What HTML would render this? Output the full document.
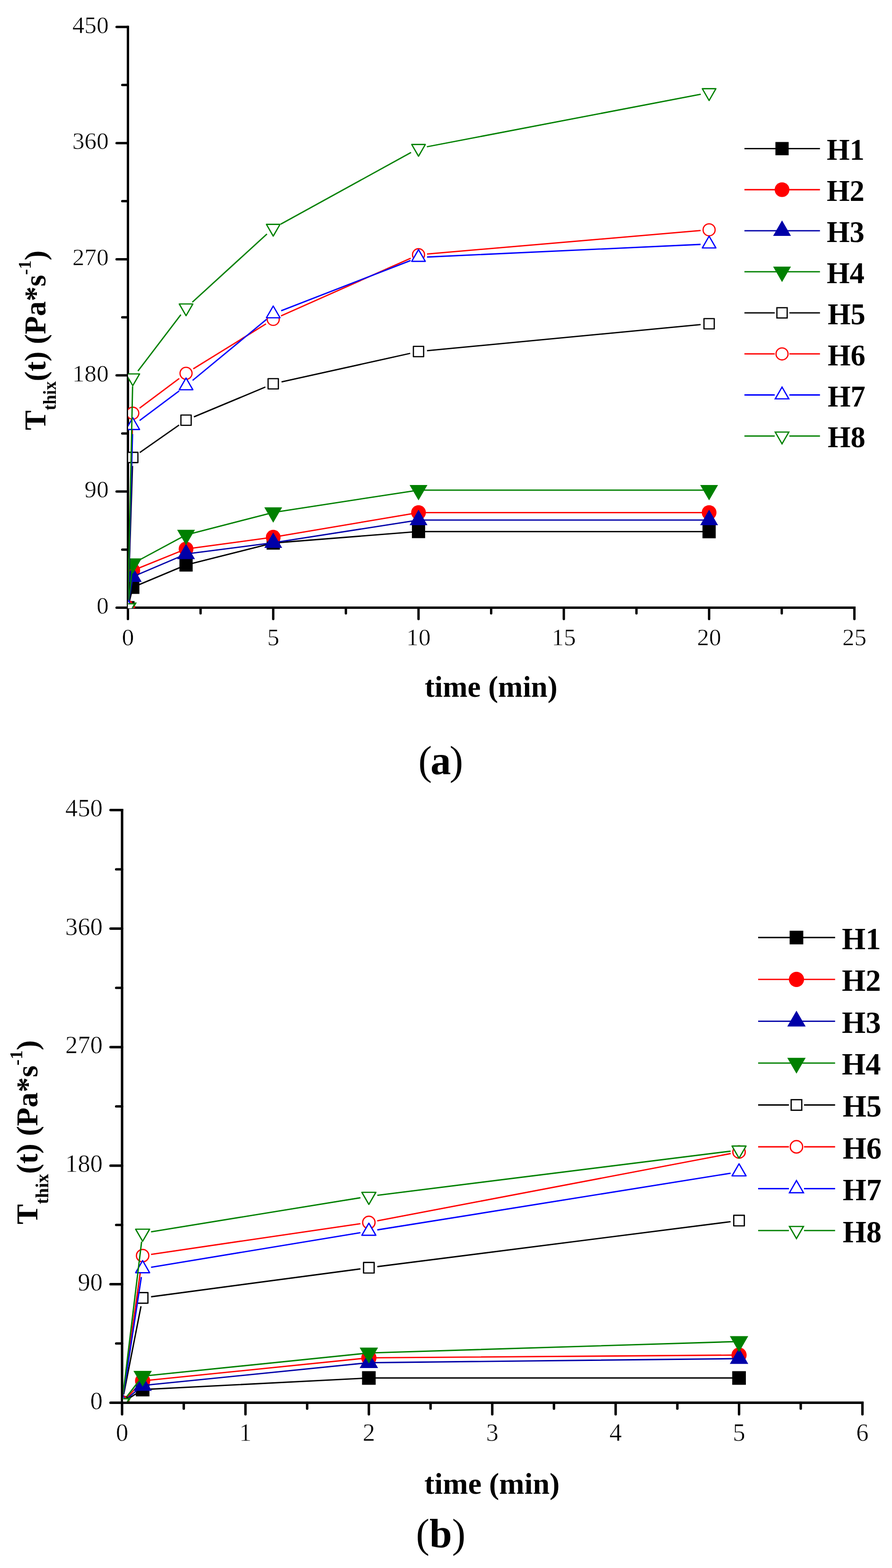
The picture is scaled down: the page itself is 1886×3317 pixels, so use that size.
<!DOCTYPE html><html><head><meta charset="utf-8"><title>Thixotropy chart</title><style>html,body{margin:0;padding:0;background:#fff;}svg{display:block;}</style></head><body>
<svg width="1886" height="3317" viewBox="0 0 1886 3317">
<rect width="1886" height="3317" fill="#fff"/>
<g stroke="#000" fill="none">
<path d="M270.5 54.5L270.5 1285.5L1809 1285.5" stroke-width="5" stroke-linejoin="miter" stroke-linecap="butt"/>
<path d="M270.5 1285.5L246.5 1285.5M270.5 1162.65L258.5 1162.65M270.5 1039.8L246.5 1039.8M270.5 916.95L258.5 916.95M270.5 794.1L246.5 794.1M270.5 671.25L258.5 671.25M270.5 548.4L246.5 548.4M270.5 425.55L258.5 425.55M270.5 302.7L246.5 302.7M270.5 179.85L258.5 179.85M270.5 57L246.5 57M270.5 1285.5L270.5 1309.5M424.1 1285.5L424.1 1297.5M577.7 1285.5L577.7 1309.5M731.3 1285.5L731.3 1297.5M884.9 1285.5L884.9 1309.5M1038.5 1285.5L1038.5 1297.5M1192.1 1285.5L1192.1 1309.5M1345.7 1285.5L1345.7 1297.5M1499.3 1285.5L1499.3 1309.5M1652.9 1285.5L1652.9 1297.5M1806.5 1285.5L1806.5 1309.5" stroke-width="5" stroke-linecap="round"/>
</g>
<defs><clipPath id="clipa"><rect x="270.8" y="17" width="1575.7" height="1269.6"/></clipPath></defs>
<g clip-path="url(#clipa)" stroke-linecap="butt" stroke-linejoin="round">
<polyline points="270.5,1285.5 280.74,1242.37 393.38,1195.14 577.7,1148.73 884.9,1124.43 1499.3,1124.7" fill="none" stroke="#000000" stroke-width="2.8"/>
<rect x="256.5" y="1271.5" width="28" height="28" fill="#000000"/>
<rect x="266.74" y="1228.37" width="28" height="28" fill="#000000"/>
<rect x="379.38" y="1181.14" width="28" height="28" fill="#000000"/>
<rect x="563.7" y="1134.73" width="28" height="28" fill="#000000"/>
<rect x="870.9" y="1110.43" width="28" height="28" fill="#000000"/>
<rect x="1485.3" y="1110.7" width="28" height="28" fill="#000000"/>
<polyline points="270.5,1285.5 280.74,1206.88 393.38,1161.29 577.7,1136.44 884.9,1084.3 1499.3,1084.3" fill="none" stroke="#ff0000" stroke-width="2.8"/>
<circle cx="270.5" cy="1285.5" r="15.6" fill="#ff0000"/>
<circle cx="280.74" cy="1206.88" r="15.6" fill="#ff0000"/>
<circle cx="393.38" cy="1161.29" r="15.6" fill="#ff0000"/>
<circle cx="577.7" cy="1136.44" r="15.6" fill="#ff0000"/>
<circle cx="884.9" cy="1084.3" r="15.6" fill="#ff0000"/>
<circle cx="1499.3" cy="1084.3" r="15.6" fill="#ff0000"/>
<polyline points="270.5,1285.5 280.74,1219.98 393.38,1171.93 577.7,1148.18 884.9,1100.13 1499.3,1100.13" fill="none" stroke="#0000a8" stroke-width="2.8"/>
<polygon points="270.5,1263.7 289.38,1296.4 251.62,1296.4" fill="#0000a8"/>
<polygon points="280.74,1198.18 299.62,1230.88 261.86,1230.88" fill="#0000a8"/>
<polygon points="393.38,1150.13 412.26,1182.83 374.5,1182.83" fill="#0000a8"/>
<polygon points="577.7,1126.38 596.58,1159.08 558.82,1159.08" fill="#0000a8"/>
<polygon points="884.9,1078.33 903.78,1111.03 866.02,1111.03" fill="#0000a8"/>
<polygon points="1499.3,1078.33 1518.18,1111.03 1480.42,1111.03" fill="#0000a8"/>
<polyline points="270.5,1285.5 280.74,1192.13 393.38,1131.53 577.7,1084.03 884.9,1036.8 1499.3,1036.8" fill="none" stroke="#008000" stroke-width="2.8"/>
<polygon points="270.5,1307.3 289.38,1274.6 251.62,1274.6" fill="#008000"/>
<polygon points="280.74,1213.93 299.62,1181.23 261.86,1181.23" fill="#008000"/>
<polygon points="393.38,1153.33 412.26,1120.63 374.5,1120.63" fill="#008000"/>
<polygon points="577.7,1105.83 596.58,1073.13 558.82,1073.13" fill="#008000"/>
<polygon points="884.9,1058.6 903.78,1025.9 866.02,1025.9" fill="#008000"/>
<polygon points="1499.3,1058.6 1518.18,1025.9 1480.42,1025.9" fill="#008000"/>
<path d="M271.08 1267.51L280.16 985.72M295.48 957.4L378.64 899.16M409.99 881.89L561.09 818.78M595.27 807.94L867.33 747.5M902.82 741.88L1481.38 686.61" fill="none" stroke="#000000" stroke-width="2.8"/>
<rect x="259.65" y="1274.65" width="21.7" height="21.7" fill="#fff" stroke="#000000" stroke-width="2.6"/>
<rect x="269.89" y="956.88" width="21.7" height="21.7" fill="#fff" stroke="#000000" stroke-width="2.6"/>
<rect x="382.53" y="877.98" width="21.7" height="21.7" fill="#fff" stroke="#000000" stroke-width="2.6"/>
<rect x="566.85" y="801" width="21.7" height="21.7" fill="#fff" stroke="#000000" stroke-width="2.6"/>
<rect x="874.05" y="732.75" width="21.7" height="21.7" fill="#fff" stroke="#000000" stroke-width="2.6"/>
<rect x="1488.45" y="674.05" width="21.7" height="21.7" fill="#fff" stroke="#000000" stroke-width="2.6"/>
<path d="M270.95 1267.51L280.29 892.08M295.15 863.3L378.97 800.52M408.68 780.26L562.4 685.09M594.14 668.3L868.46 546.17M902.83 537.31L1481.37 487.69" fill="none" stroke="#ff0000" stroke-width="2.8"/>
<circle cx="270.5" cy="1285.5" r="12.7" fill="#fff" stroke="#ff0000" stroke-width="2.6"/>
<circle cx="280.74" cy="874.09" r="12.7" fill="#fff" stroke="#ff0000" stroke-width="2.6"/>
<circle cx="393.38" cy="789.73" r="12.7" fill="#fff" stroke="#ff0000" stroke-width="2.6"/>
<circle cx="577.7" cy="675.62" r="12.7" fill="#fff" stroke="#ff0000" stroke-width="2.6"/>
<circle cx="884.9" cy="538.85" r="12.7" fill="#fff" stroke="#ff0000" stroke-width="2.6"/>
<circle cx="1499.3" cy="486.16" r="12.7" fill="#fff" stroke="#ff0000" stroke-width="2.6"/>
<path d="M270.98 1267.51L280.26 918.29M295.16 889.53L378.96 826.98M407.25 804.75L563.83 675.35M594.48 657.36L868.12 551.09M902.88 543.75L1481.32 517.02" fill="none" stroke="#0000ff" stroke-width="2.8"/>
<polygon points="270.5,1268.9 284.88,1293.8 256.12,1293.8" fill="#fff" stroke="#0000ff" stroke-width="2.6" stroke-miterlimit="10"/>
<polygon points="280.74,883.7 295.12,908.6 266.36,908.6" fill="#fff" stroke="#0000ff" stroke-width="2.6" stroke-miterlimit="10"/>
<polygon points="393.38,799.61 407.76,824.51 379,824.51" fill="#fff" stroke="#0000ff" stroke-width="2.6" stroke-miterlimit="10"/>
<polygon points="577.7,647.28 592.08,672.18 563.32,672.18" fill="#fff" stroke="#0000ff" stroke-width="2.6" stroke-miterlimit="10"/>
<polygon points="884.9,527.98 899.28,552.88 870.52,552.88" fill="#fff" stroke="#0000ff" stroke-width="2.6" stroke-miterlimit="10"/>
<polygon points="1499.3,499.59 1513.68,524.49 1484.92,524.49" fill="#fff" stroke="#0000ff" stroke-width="2.6" stroke-miterlimit="10"/>
<path d="M270.88 1267.5L280.36 817.28M291.64 784.96L382.48 665.64M406.67 639.18L564.41 495.02M593.47 474.2L869.13 322.57M902.58 310.5L1481.62 199.35" fill="none" stroke="#008000" stroke-width="2.8"/>
<polygon points="270.5,1302.1 284.88,1277.2 256.12,1277.2" fill="#fff" stroke="#008000" stroke-width="2.6" stroke-miterlimit="10"/>
<polygon points="280.74,815.89 295.12,790.99 266.36,790.99" fill="#fff" stroke="#008000" stroke-width="2.6" stroke-miterlimit="10"/>
<polygon points="393.38,667.92 407.76,643.02 379,643.02" fill="#fff" stroke="#008000" stroke-width="2.6" stroke-miterlimit="10"/>
<polygon points="577.7,499.48 592.08,474.58 563.32,474.58" fill="#fff" stroke="#008000" stroke-width="2.6" stroke-miterlimit="10"/>
<polygon points="884.9,330.49 899.28,305.59 870.52,305.59" fill="#fff" stroke="#008000" stroke-width="2.6" stroke-miterlimit="10"/>
<polygon points="1499.3,212.56 1513.68,187.66 1484.92,187.66" fill="#fff" stroke="#008000" stroke-width="2.6" stroke-miterlimit="10"/>
</g>
<g font-family="&quot;Liberation Serif&quot;, serif" font-size="51.2" fill="#000" stroke="#fff" stroke-width="0.6">
<text x="229.8" y="1298.1" text-anchor="end">0</text>
<text x="229.8" y="1052.4" text-anchor="end">90</text>
<text x="229.8" y="806.7" text-anchor="end">180</text>
<text x="229.8" y="561" text-anchor="end">270</text>
<text x="229.8" y="315.3" text-anchor="end">360</text>
<text x="229.8" y="69.6" text-anchor="end">450</text>
<text x="270.5" y="1365.4" text-anchor="middle">0</text>
<text x="577.7" y="1365.4" text-anchor="middle">5</text>
<text x="884.9" y="1365.4" text-anchor="middle">10</text>
<text x="1192.1" y="1365.4" text-anchor="middle">15</text>
<text x="1499.3" y="1365.4" text-anchor="middle">20</text>
<text x="1806.5" y="1365.4" text-anchor="middle">25</text>
</g>
<text x="1038.3" y="1474.3" text-anchor="middle" font-family="&quot;Liberation Serif&quot;, serif" font-weight="bold" font-size="62.8">time (min)</text>
<text transform="translate(95.8 910) rotate(-90)" font-family="&quot;Liberation Serif&quot;, serif" font-weight="bold" font-size="62.8">T<tspan font-size="37" dy="22">thix</tspan><tspan dy="-22">(t) (Pa*s</tspan><tspan font-size="37" dy="-31">-1</tspan><tspan dy="31">)</tspan></text>
<g>
<path d="M1574 314.4H1733.7" stroke="#000000" stroke-width="2.8"/>
<rect x="1639.5" y="300.4" width="28" height="28" fill="#000000"/>
<text x="1748" y="338.4" font-family="&quot;Liberation Serif&quot;, serif" font-weight="bold" font-size="62.5">H1</text>
<path d="M1574 401.25H1733.7" stroke="#ff0000" stroke-width="2.8"/>
<circle cx="1653.5" cy="401.25" r="15.6" fill="#ff0000"/>
<text x="1748" y="425.25" font-family="&quot;Liberation Serif&quot;, serif" font-weight="bold" font-size="62.5">H2</text>
<path d="M1574 488.1H1733.7" stroke="#0000a8" stroke-width="2.8"/>
<polygon points="1653.5,466.3 1672.38,499 1634.62,499" fill="#0000a8"/>
<text x="1748" y="512.1" font-family="&quot;Liberation Serif&quot;, serif" font-weight="bold" font-size="62.5">H3</text>
<path d="M1574 574.95H1733.7" stroke="#008000" stroke-width="2.8"/>
<polygon points="1653.5,596.75 1672.38,564.05 1634.62,564.05" fill="#008000"/>
<text x="1748" y="598.95" font-family="&quot;Liberation Serif&quot;, serif" font-weight="bold" font-size="62.5">H4</text>
<path d="M1574 661.8H1638M1669 661.8H1733.7" stroke="#000000" stroke-width="2.8"/>
<rect x="1642.65" y="650.95" width="21.7" height="21.7" fill="#fff" stroke="#000000" stroke-width="2.6"/>
<text x="1750" y="685.8" font-family="&quot;Liberation Serif&quot;, serif" font-weight="bold" font-size="62.5">H5</text>
<path d="M1574 748.65H1638M1669 748.65H1733.7" stroke="#ff0000" stroke-width="2.8"/>
<circle cx="1653.5" cy="748.65" r="12.7" fill="#fff" stroke="#ff0000" stroke-width="2.6"/>
<text x="1750" y="772.65" font-family="&quot;Liberation Serif&quot;, serif" font-weight="bold" font-size="62.5">H6</text>
<path d="M1574 835.5H1638M1669 835.5H1733.7" stroke="#0000ff" stroke-width="2.8"/>
<polygon points="1653.5,818.9 1667.88,843.8 1639.12,843.8" fill="#fff" stroke="#0000ff" stroke-width="2.6" stroke-miterlimit="10"/>
<text x="1750" y="859.5" font-family="&quot;Liberation Serif&quot;, serif" font-weight="bold" font-size="62.5">H7</text>
<path d="M1574 922.35H1638M1669 922.35H1733.7" stroke="#008000" stroke-width="2.8"/>
<polygon points="1653.5,938.95 1667.88,914.05 1639.12,914.05" fill="#fff" stroke="#008000" stroke-width="2.6" stroke-miterlimit="10"/>
<text x="1750" y="946.35" font-family="&quot;Liberation Serif&quot;, serif" font-weight="bold" font-size="62.5">H8</text>
</g>
<text x="930.3" y="1637.6" text-anchor="middle" font-family="&quot;Liberation Serif&quot;, serif" font-size="86.4" letter-spacing="-3">(<tspan font-weight="bold">a</tspan>)</text>
<g stroke="#000" fill="none">
<path d="M258.1 1711L258.1 2967.4L1826.1 2967.4" stroke-width="5.2" stroke-linejoin="miter" stroke-linecap="butt"/>
<path d="M258.1 2967.4L233.7 2967.4M258.1 2842.02L245.7 2842.02M258.1 2716.64L233.7 2716.64M258.1 2591.26L245.7 2591.26M258.1 2465.88L233.7 2465.88M258.1 2340.5L245.7 2340.5M258.1 2215.12L233.7 2215.12M258.1 2089.74L245.7 2089.74M258.1 1964.36L233.7 1964.36M258.1 1838.98L245.7 1838.98M258.1 1713.6L233.7 1713.6M258.1 2967.4L258.1 2991.8M388.55 2967.4L388.55 2979.8M519 2967.4L519 2991.8M649.45 2967.4L649.45 2979.8M779.9 2967.4L779.9 2991.8M910.35 2967.4L910.35 2979.8M1040.8 2967.4L1040.8 2991.8M1171.25 2967.4L1171.25 2979.8M1301.7 2967.4L1301.7 2991.8M1432.15 2967.4L1432.15 2979.8M1562.6 2967.4L1562.6 2991.8M1693.05 2967.4L1693.05 2979.8M1823.5 2967.4L1823.5 2991.8" stroke-width="5.2" stroke-linecap="round"/>
</g>
<defs><clipPath id="clipb"><rect x="260.7" y="1673.6" width="1602.8" height="1291.5"/></clipPath></defs>
<g clip-path="url(#clipb)" stroke-linecap="butt" stroke-linejoin="round">
<polyline points="258.1,2967.4 301.58,2939.54 779.9,2915.02 1562.6,2915.02" fill="none" stroke="#000000" stroke-width="2.9"/>
<rect x="243.68" y="2952.98" width="28.84" height="28.84" fill="#000000"/>
<rect x="287.16" y="2925.12" width="28.84" height="28.84" fill="#000000"/>
<rect x="765.48" y="2900.6" width="28.84" height="28.84" fill="#000000"/>
<rect x="1548.18" y="2900.6" width="28.84" height="28.84" fill="#000000"/>
<polyline points="258.1,2967.4 301.58,2921.15 779.9,2872.39 1562.6,2866.54" fill="none" stroke="#ff0000" stroke-width="2.9"/>
<circle cx="258.1" cy="2967.4" r="16.07" fill="#ff0000"/>
<circle cx="301.58" cy="2921.15" r="16.07" fill="#ff0000"/>
<circle cx="779.9" cy="2872.39" r="16.07" fill="#ff0000"/>
<circle cx="1562.6" cy="2866.54" r="16.07" fill="#ff0000"/>
<polyline points="258.1,2967.4 301.58,2930.9 779.9,2882.7 1562.6,2874.06" fill="none" stroke="#0000a8" stroke-width="2.9"/>
<polygon points="258.1,2944.95 277.55,2978.63 238.65,2978.63" fill="#0000a8"/>
<polygon points="301.58,2908.45 321.03,2942.13 282.14,2942.13" fill="#0000a8"/>
<polygon points="779.9,2860.24 799.35,2893.93 760.45,2893.93" fill="#0000a8"/>
<polygon points="1562.6,2851.61 1582.05,2885.29 1543.15,2885.29" fill="#0000a8"/>
<polyline points="258.1,2967.4 301.58,2911.12 779.9,2862.08 1562.6,2837.84" fill="none" stroke="#008000" stroke-width="2.9"/>
<polygon points="258.1,2989.85 277.55,2956.17 238.65,2956.17" fill="#008000"/>
<polygon points="301.58,2933.57 321.03,2899.89 282.14,2899.89" fill="#008000"/>
<polygon points="779.9,2884.53 799.35,2850.85 760.45,2850.85" fill="#008000"/>
<polygon points="1562.6,2860.29 1582.05,2826.61 1543.15,2826.61" fill="#008000"/>
<path d="M261.56 2949.74L298.12 2763.28M319.43 2743.24L762.06 2684.19M797.76 2679.54L1544.74 2584.34" fill="none" stroke="#000000" stroke-width="2.9"/>
<rect x="246.92" y="2956.22" width="22.35" height="22.35" fill="#fff" stroke="#000000" stroke-width="2.68"/>
<rect x="290.41" y="2734.44" width="22.35" height="22.35" fill="#fff" stroke="#000000" stroke-width="2.68"/>
<rect x="768.72" y="2670.64" width="22.35" height="22.35" fill="#fff" stroke="#000000" stroke-width="2.68"/>
<rect x="1551.42" y="2570.89" width="22.35" height="22.35" fill="#fff" stroke="#000000" stroke-width="2.68"/>
<path d="M260.59 2949.57L299.09 2674.01M319.39 2653.56L762.09 2588.58M797.58 2582.6L1544.92 2440.27" fill="none" stroke="#ff0000" stroke-width="2.9"/>
<circle cx="258.1" cy="2967.4" r="13.08" fill="#fff" stroke="#ff0000" stroke-width="2.68"/>
<circle cx="301.58" cy="2656.18" r="13.08" fill="#fff" stroke="#ff0000" stroke-width="2.68"/>
<circle cx="779.9" cy="2585.97" r="13.08" fill="#fff" stroke="#ff0000" stroke-width="2.68"/>
<circle cx="1562.6" cy="2436.9" r="13.08" fill="#fff" stroke="#ff0000" stroke-width="2.68"/>
<path d="M260.83 2949.61L298.86 2701.55M319.34 2680.82L762.14 2607.57M797.67 2601.78L1544.83 2481.83" fill="none" stroke="#0000ff" stroke-width="2.9"/>
<polygon points="258.1,2950.3 272.91,2975.95 243.29,2975.95" fill="#fff" stroke="#0000ff" stroke-width="2.68" stroke-miterlimit="10"/>
<polygon points="301.58,2666.66 316.39,2692.31 286.78,2692.31" fill="#fff" stroke="#0000ff" stroke-width="2.68" stroke-miterlimit="10"/>
<polygon points="779.9,2587.54 794.71,2613.18 765.09,2613.18" fill="#fff" stroke="#0000ff" stroke-width="2.68" stroke-miterlimit="10"/>
<polygon points="1562.6,2461.88 1577.41,2487.52 1547.79,2487.52" fill="#fff" stroke="#0000ff" stroke-width="2.68" stroke-miterlimit="10"/>
<path d="M260.27 2949.53L299.42 2626.68M319.35 2605.92L762.13 2533.7M797.76 2528.57L1544.74 2435.23" fill="none" stroke="#008000" stroke-width="2.9"/>
<polygon points="258.1,2984.5 272.91,2958.85 243.29,2958.85" fill="#fff" stroke="#008000" stroke-width="2.68" stroke-miterlimit="10"/>
<polygon points="301.58,2625.91 316.39,2600.26 286.78,2600.26" fill="#fff" stroke="#008000" stroke-width="2.68" stroke-miterlimit="10"/>
<polygon points="779.9,2547.9 794.71,2522.25 765.09,2522.25" fill="#fff" stroke="#008000" stroke-width="2.68" stroke-miterlimit="10"/>
<polygon points="1562.6,2450.1 1577.41,2424.45 1547.79,2424.45" fill="#fff" stroke="#008000" stroke-width="2.68" stroke-miterlimit="10"/>
</g>
<g font-family="&quot;Liberation Serif&quot;, serif" font-size="52.6" fill="#000" stroke="#fff" stroke-width="0.6">
<text x="217" y="2980.6" text-anchor="end">0</text>
<text x="217" y="2729.84" text-anchor="end">90</text>
<text x="217" y="2479.08" text-anchor="end">180</text>
<text x="217" y="2228.32" text-anchor="end">270</text>
<text x="217" y="1977.56" text-anchor="end">360</text>
<text x="217" y="1726.8" text-anchor="end">450</text>
<text x="258.1" y="3048.3" text-anchor="middle">0</text>
<text x="519" y="3048.3" text-anchor="middle">1</text>
<text x="779.9" y="3048.3" text-anchor="middle">2</text>
<text x="1040.8" y="3048.3" text-anchor="middle">3</text>
<text x="1301.7" y="3048.3" text-anchor="middle">4</text>
<text x="1562.6" y="3048.3" text-anchor="middle">5</text>
<text x="1823.5" y="3048.3" text-anchor="middle">6</text>
</g>
<text x="1040.3" y="3160.1" text-anchor="middle" font-family="&quot;Liberation Serif&quot;, serif" font-weight="bold" font-size="64">time (min)</text>
<text transform="translate(79 2590) rotate(-90)" font-family="&quot;Liberation Serif&quot;, serif" font-weight="bold" font-size="64">T<tspan font-size="38.5" dy="23">thix</tspan><tspan dy="-23">(t) (Pa*s</tspan><tspan font-size="38.5" dy="-32">-1</tspan><tspan dy="32">)</tspan></text>
<g>
<path d="M1603 1983.3H1765.7" stroke="#000000" stroke-width="2.9"/>
<rect x="1669.58" y="1968.88" width="28.84" height="28.84" fill="#000000"/>
<text x="1780" y="2007.8" font-family="&quot;Liberation Serif&quot;, serif" font-weight="bold" font-size="64.5">H1</text>
<path d="M1603 2071.84H1765.7" stroke="#ff0000" stroke-width="2.9"/>
<circle cx="1684" cy="2071.84" r="16.07" fill="#ff0000"/>
<text x="1780" y="2096.34" font-family="&quot;Liberation Serif&quot;, serif" font-weight="bold" font-size="64.5">H2</text>
<path d="M1603 2160.38H1765.7" stroke="#0000a8" stroke-width="2.9"/>
<polygon points="1684,2137.93 1703.45,2171.61 1664.55,2171.61" fill="#0000a8"/>
<text x="1780" y="2184.88" font-family="&quot;Liberation Serif&quot;, serif" font-weight="bold" font-size="64.5">H3</text>
<path d="M1603 2248.92H1765.7" stroke="#008000" stroke-width="2.9"/>
<polygon points="1684,2271.37 1703.45,2237.69 1664.55,2237.69" fill="#008000"/>
<text x="1780" y="2273.42" font-family="&quot;Liberation Serif&quot;, serif" font-weight="bold" font-size="64.5">H4</text>
<path d="M1603 2337.46H1668M1700 2337.46H1765.7" stroke="#000000" stroke-width="2.9"/>
<rect x="1672.82" y="2326.28" width="22.35" height="22.35" fill="#fff" stroke="#000000" stroke-width="2.68"/>
<text x="1781.7" y="2361.96" font-family="&quot;Liberation Serif&quot;, serif" font-weight="bold" font-size="64.5">H5</text>
<path d="M1603 2426H1668M1700 2426H1765.7" stroke="#ff0000" stroke-width="2.9"/>
<circle cx="1684" cy="2426" r="13.08" fill="#fff" stroke="#ff0000" stroke-width="2.68"/>
<text x="1781.7" y="2450.5" font-family="&quot;Liberation Serif&quot;, serif" font-weight="bold" font-size="64.5">H6</text>
<path d="M1603 2514.54H1668M1700 2514.54H1765.7" stroke="#0000ff" stroke-width="2.9"/>
<polygon points="1684,2497.44 1698.81,2523.09 1669.19,2523.09" fill="#fff" stroke="#0000ff" stroke-width="2.68" stroke-miterlimit="10"/>
<text x="1781.7" y="2539.04" font-family="&quot;Liberation Serif&quot;, serif" font-weight="bold" font-size="64.5">H7</text>
<path d="M1603 2603.08H1668M1700 2603.08H1765.7" stroke="#008000" stroke-width="2.9"/>
<polygon points="1684,2620.18 1698.81,2594.53 1669.19,2594.53" fill="#fff" stroke="#008000" stroke-width="2.68" stroke-miterlimit="10"/>
<text x="1781.7" y="2627.58" font-family="&quot;Liberation Serif&quot;, serif" font-weight="bold" font-size="64.5">H8</text>
</g>
<text x="931.9" y="3273.4" text-anchor="middle" font-family="&quot;Liberation Serif&quot;, serif" font-size="85.7" letter-spacing="0">(<tspan font-weight="bold">b</tspan>)</text>
</svg></body></html>
